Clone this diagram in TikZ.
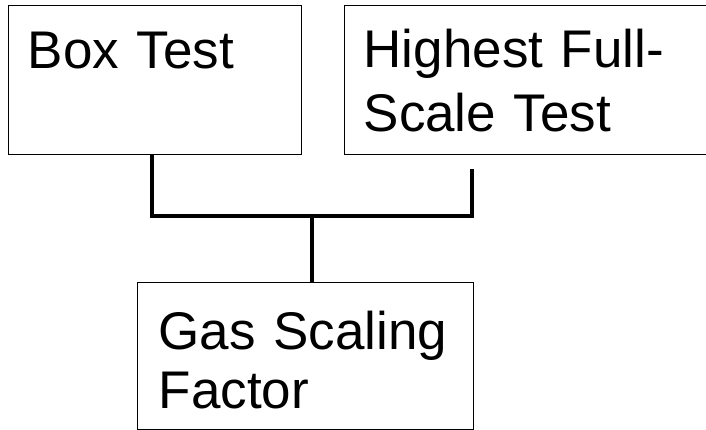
\documentclass[tikz,border=0pt]{standalone}
\usepackage{fontspec}
\setmainfont{Liberation Sans}
\usepackage{tikz}
\tikzset{
    plain-box/.style = {draw=black, fill=white, line width=1.3pt, rectangle, anchor=north west, inner sep=0pt, inner xsep=19pt, align=left, font=\fontsize{53}{64}\selectfont},
    link-line/.style = {draw=black, line width=3.3pt},
}

\begin{document}
\begin{tikzpicture}[x=1pt,y=1pt]
\clip (0,0) rectangle (706,-430);
\node [plain-box, text width=255pt, text height=63pt, text depth=86pt] (boxtest) at (8,-5) {Box Test};
\node [plain-box, text width=380pt, text height=62pt, text depth=87pt] (fullscale) at (344,-5) {Highest Full-\\Scale Test};
\node [plain-box, text width=294pt, inner xsep=21pt, text height=67pt, text depth=80pt, font=\fontsize{53}{59}\selectfont] (gasfactor) at (137,-282) {Gas Scaling\\Factor};
\coordinate (leftdrop) at (152,-154);
\coordinate (rightdrop) at (472,-169);
\coordinate (join) at (312,-216);
\draw [link-line] (leftdrop) -- (leftdrop |- join) -- (rightdrop |- join) -- (rightdrop);
\draw [link-line] (join) -- (join |- gasfactor.north);
\end{tikzpicture}
\end{document}
